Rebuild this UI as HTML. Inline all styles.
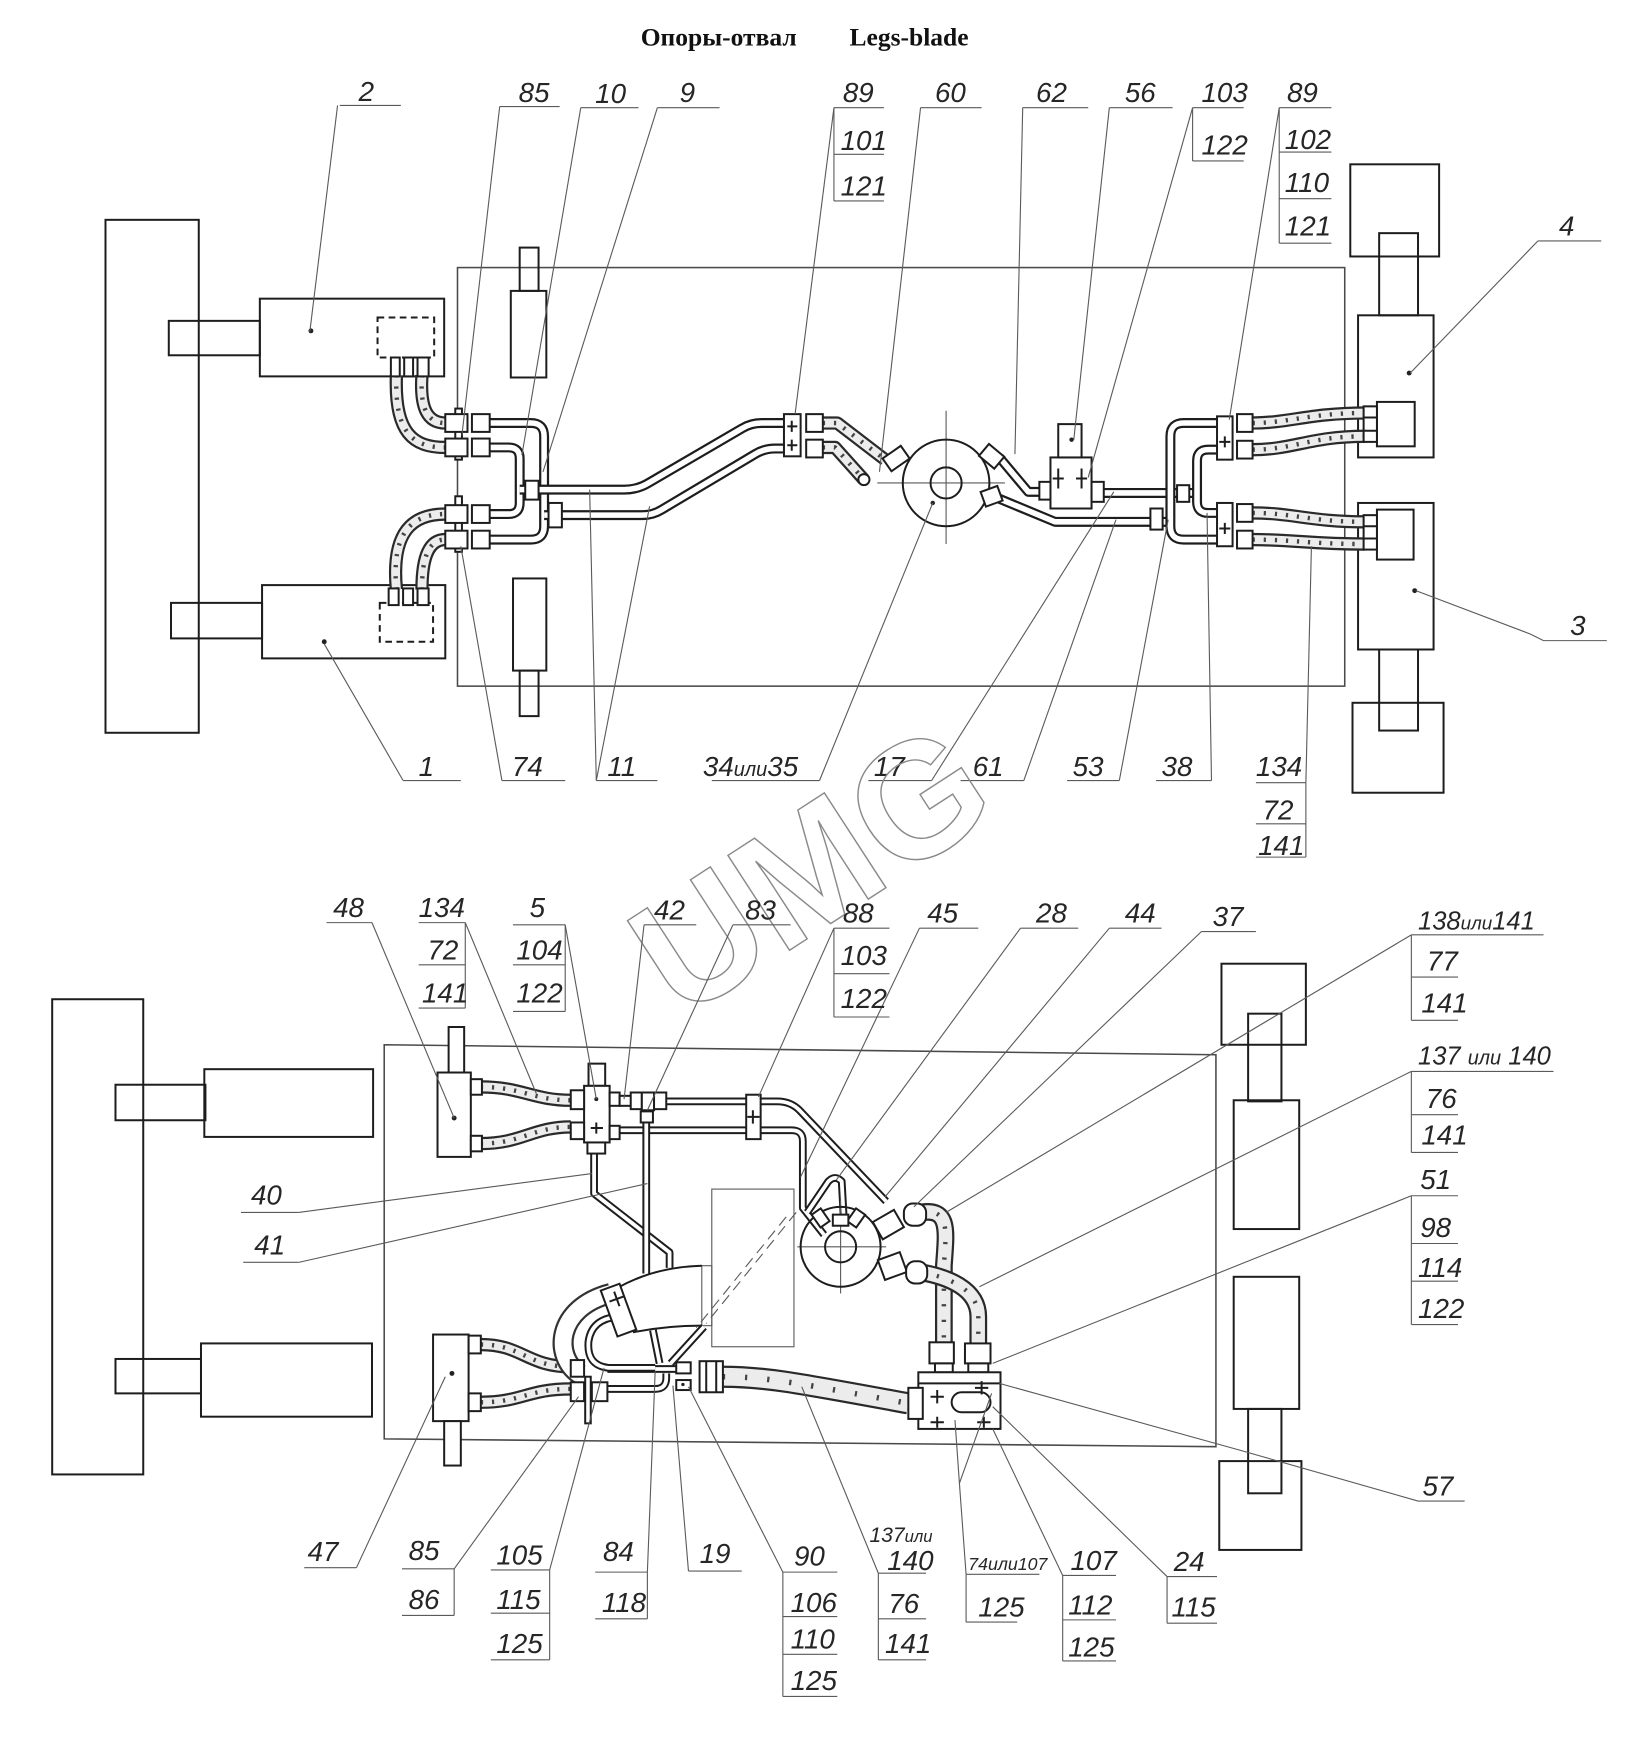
<!DOCTYPE html>
<html><head><meta charset="utf-8"><style>
html,body{margin:0;padding:0;background:#fff}
svg{display:block}
.k{fill:none;stroke:#1d1d1d;stroke-width:1.8}
.kw{fill:#fff;stroke:#1d1d1d;stroke-width:1.8}
.g{fill:none;stroke:#5a5a5a;stroke-width:1}
.fr{fill:none;stroke:#4a4a4a;stroke-width:1.4}
.po{fill:none;stroke:#1d1d1d;stroke-width:9;stroke-linejoin:round}
.pi{fill:none;stroke:#fff;stroke-width:5;stroke-linejoin:round}
.so{fill:none;stroke:#1d1d1d;stroke-width:7;stroke-linejoin:round}
.si{fill:none;stroke:#fff;stroke-width:3.4;stroke-linejoin:round}
.ho{fill:none;stroke:#2a2a2a;stroke-width:12;stroke-linejoin:round}
.hi{fill:none;stroke:#ececec;stroke-width:8;stroke-linejoin:round}
.hx{fill:none;stroke:#444;stroke-width:4;stroke-dasharray:2 8}
.l{font-family:"Liberation Sans","DejaVu Sans",sans-serif;font-style:italic;font-size:25px;fill:#262626}
.d{fill:#222}
</style></head><body>
<svg width="1639" height="1742" viewBox="0 0 1476 1569" preserveAspectRatio="none" xmlns="http://www.w3.org/2000/svg">

<!-- Title -->
<text x="577" y="41" font-family="Liberation Serif, serif" font-weight="bold" font-size="23" fill="#111">Опоры-отвал</text>
<text x="765" y="41" font-family="Liberation Serif, serif" font-weight="bold" font-size="23" fill="#111">Legs-blade</text>

<!-- ================= TOP DIAGRAM ================= -->
<rect class="k" x="95" y="198" width="84" height="462"/>
<rect class="k" x="152" y="289" width="82" height="31"/>
<rect class="k" x="234" y="269" width="166" height="70"/>
<rect class="k" x="340" y="286" width="51" height="36" stroke-dasharray="6 4"/>
<circle class="d" cx="280" cy="298" r="2.2"/>
<rect class="k" x="154" y="543" width="82" height="32"/>
<rect class="k" x="236" y="527" width="165" height="66"/>
<rect class="k" x="342" y="543" width="48" height="35" stroke-dasharray="6 4"/>
<circle class="d" cx="292" cy="578" r="2.2"/>
<rect class="fr" x="412" y="241" width="799" height="377"/>
<rect class="k" x="468" y="223" width="17" height="39"/>
<rect class="k" x="460" y="262" width="32" height="78"/>
<rect class="k" x="462" y="521" width="30" height="83"/>
<rect class="k" x="468" y="604" width="17" height="41"/>
<rect class="k" x="1216" y="148" width="80" height="83"/>
<rect class="k" x="1242" y="210" width="35" height="74"/>
<rect class="k" x="1223" y="284" width="68" height="128"/>
<rect class="k" x="1240" y="362" width="34" height="40"/>
<circle class="d" cx="1269" cy="336" r="2.2"/>
<rect class="k" x="1223" y="453" width="68" height="132"/>
<rect class="k" x="1240" y="459" width="33" height="45"/>
<circle class="d" cx="1274" cy="532" r="2.2"/>
<rect class="k" x="1242" y="585" width="35" height="73"/>
<rect class="k" x="1218" y="633" width="82" height="81"/>

<g>
<path class="ho" d="M357 338 C355 390,372 403,401 403"/><path class="hi" d="M357 338 C355 390,372 403,401 403"/><path class="hx" d="M357 338 C355 390,372 403,401 403"/>
<path class="ho" d="M380 338 C378 368,385 381,401 381"/><path class="hi" d="M380 338 C378 368,385 381,401 381"/><path class="hx" d="M380 338 C378 368,385 381,401 381"/>
<path class="ho" d="M357 531 C352 478,372 463,401 463"/><path class="hi" d="M357 531 C352 478,372 463,401 463"/><path class="hx" d="M357 531 C352 478,372 463,401 463"/>
<path class="ho" d="M380 531 C380 500,387 486,401 486"/><path class="hi" d="M380 531 C380 500,387 486,401 486"/><path class="hx" d="M380 531 C380 500,387 486,401 486"/>
</g>
<rect class="kw" x="352" y="322" width="8" height="17"/><rect class="kw" x="364" y="322" width="8" height="17"/><rect class="kw" x="376" y="322" width="10" height="17"/>
<rect class="kw" x="350" y="530" width="9" height="15"/><rect class="kw" x="363" y="530" width="9" height="15"/><rect class="kw" x="376" y="530" width="10" height="15"/>

<path class="po" d="M441 381 H478 Q490 381 490 393 V474 Q490 486 478 486 H441"/><path class="pi" d="M441 381 H478 Q490 381 490 393 V474 Q490 486 478 486 H441"/>
<path class="po" d="M441 403 H458 Q468 403 468 413 V453 Q468 463 458 463 H441"/><path class="pi" d="M441 403 H458 Q468 403 468 413 V453 Q468 463 458 463 H441"/>
<path class="po" d="M468 441 H562 Q574 441 584 435 L668 386 Q676 381 686 381 H706"/><path class="pi" d="M468 441 H562 Q574 441 584 435 L668 386 Q676 381 686 381 H706"/>
<path class="po" d="M490 464 H578 Q588 464 596 459 L680 409 Q688 404 698 404 H706"/><path class="pi" d="M490 464 H578 Q588 464 596 459 L680 409 Q688 404 698 404 H706"/>
<rect class="kw" x="473" y="433" width="12" height="17"/>
<rect class="kw" x="494" y="453" width="12" height="22"/>
<rect class="kw" x="410" y="368" width="6" height="46"/><rect class="kw" x="410" y="447" width="6" height="50"/>
<rect class="kw" x="401" y="373" width="20" height="16"/><rect class="kw" x="401" y="395" width="20" height="16"/>
<rect class="kw" x="401" y="455" width="20" height="16"/><rect class="kw" x="401" y="478" width="20" height="16"/>
<rect class="kw" x="425" y="373" width="16" height="16"/><rect class="kw" x="425" y="395" width="16" height="16"/>
<rect class="kw" x="425" y="455" width="16" height="16"/><rect class="kw" x="425" y="478" width="16" height="16"/>
<path class="ho" d="M741 381 H754 L797 414"/><path class="hi" d="M741 381 H754 L797 414"/><path class="hx" d="M741 381 H754 L797 414"/>
<path class="ho" d="M741 403 H752 L778 432"/><path class="hi" d="M741 403 H752 L778 432"/><path class="hx" d="M741 403 H752 L778 432"/>
<rect class="kw" x="706" y="373" width="15" height="38"/>
<path class="k" d="M709 384 H718 M713 379 V389 M709 401 H718 M713 396 V406"/>
<rect class="kw" x="726" y="373" width="15" height="16"/><rect class="kw" x="726" y="396" width="15" height="16"/>
<rect class="kw" x="797" y="406" width="20" height="14" transform="rotate(-35 807 413)"/>
<circle class="kw" cx="778" cy="432" r="5"/>
<line class="g" x1="852" y1="370" x2="852" y2="490"/>
<line class="g" x1="790" y1="435" x2="905" y2="435"/>
<circle class="k" cx="852" cy="435" r="39"/>
<circle class="k" cx="852" cy="435" r="14"/>
<circle class="d" cx="840" cy="453" r="2"/>
<path class="po" d="M900 412 L926 443 H937"/><path class="pi" d="M900 412 L926 443 H937"/>
<path class="po" d="M994 444 H1078"/><path class="pi" d="M994 444 H1078"/>
<path class="po" d="M897 448 L950 470 H1054"/><path class="pi" d="M897 448 L950 470 H1054"/>
<path class="po" d="M1096 405 H1088 Q1078 405 1078 415 V452 Q1078 462 1088 462 H1096"/><path class="pi" d="M1096 405 H1088 Q1078 405 1078 415 V452 Q1078 462 1088 462 H1096"/>
<path class="po" d="M1096 381 H1066 Q1054 381 1054 393 V474 Q1054 486 1066 486 H1096"/><path class="pi" d="M1096 381 H1066 Q1054 381 1054 393 V474 Q1054 486 1066 486 H1096"/>
<rect class="kw" x="884" y="404" width="18" height="14" transform="rotate(40 893 411)"/>
<rect class="kw" x="885" y="440" width="16" height="14" transform="rotate(-20 893 447)"/>
<rect class="kw" x="936" y="434" width="11" height="16"/>
<rect class="kw" x="946" y="412" width="37" height="46"/>
<rect class="kw" x="953" y="382" width="21" height="30"/>
<circle class="d" cx="965" cy="396" r="2"/>
<path class="k" d="M953 422 V440 M948 431 H958 M974 422 V440 M969 431 H979"/>
<rect class="kw" x="983" y="434" width="11" height="18"/>
<rect class="kw" x="1060" y="437" width="11" height="15"/>
<rect class="kw" x="1036" y="458" width="11" height="19"/>
<path class="ho" d="M1128 381 C1160 381,1180 372,1229 372"/><path class="hi" d="M1128 381 C1160 381,1180 372,1229 372"/><path class="hx" d="M1128 381 C1160 381,1180 372,1229 372"/>
<path class="ho" d="M1128 405 C1165 405,1180 393,1229 393"/><path class="hi" d="M1128 405 C1165 405,1180 393,1229 393"/><path class="hx" d="M1128 405 C1165 405,1180 393,1229 393"/>
<path class="ho" d="M1128 462 C1165 462,1180 470,1229 470"/><path class="hi" d="M1128 462 C1165 462,1180 470,1229 470"/><path class="hx" d="M1128 462 C1165 462,1180 470,1229 470"/>
<path class="ho" d="M1128 486 C1165 486,1180 490,1229 490"/><path class="hi" d="M1128 486 C1165 486,1180 490,1229 490"/><path class="hx" d="M1128 486 C1165 486,1180 490,1229 490"/>
<rect class="kw" x="1096" y="375" width="14" height="39"/><rect class="kw" x="1096" y="453" width="14" height="39"/>
<path class="k" d="M1098 398 H1108 M1103 393 V403 M1098 476 H1108 M1103 471 V481"/>
<rect class="kw" x="1114" y="373" width="14" height="16"/><rect class="kw" x="1114" y="397" width="14" height="16"/>
<rect class="kw" x="1114" y="454" width="14" height="16"/><rect class="kw" x="1114" y="478" width="14" height="16"/>
<rect class="kw" x="1228" y="366" width="12" height="32"/><rect class="kw" x="1228" y="464" width="12" height="31"/>
<path class="k" d="M1228 376 H1240 M1228 388 H1240 M1228 474 H1240 M1228 485 H1240"/>

<g class="g">
<path d="M304 95 L279 299"/><path d="M450 96 L416 392"/><path d="M523 97 L470 410"/><path d="M592 97 L489 425"/>
<path d="M751 97 L716 373"/><path d="M829 97 L792 425"/><path d="M921 97 L914 409"/><path d="M999 97 L967 396"/>
<path d="M1074 97 L980 430"/><path d="M1152 97 L1107 378"/>
<path d="M1385 217 L1270 336"/><path d="M1390 577 L1378 571 L1275 532"/>
<path d="M363 703 L292 580"/><path d="M452 703 L415 492"/>
<path d="M537 703 L531 441"/><path d="M537 703 L585 456"/>
<path d="M738 703 L840 453"/><path d="M839 703 L1003 443"/><path d="M922 703 L1005 468"/>
<path d="M1008 703 L1052 468"/><path d="M1091 703 L1087 462"/><path d="M1176 705 L1181 492"/>
</g>
<g class="g" stroke="#333" stroke-width="1.3">
<path d="M306 95 H361"/><path d="M450 96 H504"/><path d="M523 97 H575"/><path d="M592 97 H648"/>
<path d="M751 97 H796 M751 139 H796 M751 181 H796 M751 97 V181"/>
<path d="M829 97 H884"/><path d="M921 97 H980"/><path d="M999 97 H1056"/>
<path d="M1074 97 H1120 M1074 145 H1120 M1074 97 V145"/>
<path d="M1152 97 H1199 M1152 137 H1199 M1152 179 H1199 M1152 219 H1199 M1152 97 V219"/>
<path d="M1385 217 H1442"/><path d="M1390 577 H1447"/>
<path d="M363 703 H415"/><path d="M452 703 H509"/><path d="M537 703 H592"/><path d="M641 703 H738"/>
<path d="M782 703 H839"/><path d="M865 703 H922"/><path d="M961 703 H1008"/><path d="M1041 703 H1091"/>
<path d="M1131 705 H1176 M1131 742 H1176 M1131 772 H1176 M1176 705 V772"/>
</g>
<g class="l">
<text x="323" y="91">2</text><text x="467" y="92">85</text><text x="536" y="93">10</text><text x="612" y="92">9</text>
<text x="759" y="92">89</text><text x="757" y="135">101</text><text x="757" y="176">121</text>
<text x="842" y="92">60</text><text x="933" y="92">62</text><text x="1013" y="92">56</text>
<text x="1082" y="92">103</text><text x="1082" y="139">122</text>
<text x="1159" y="92">89</text><text x="1157" y="134">102</text><text x="1157" y="173">110</text><text x="1157" y="212">121</text>
<text x="1404" y="212">4</text><text x="1414" y="572">3</text>
<text x="377" y="699">1</text><text x="461" y="699">74</text><text x="547" y="699">11</text>
<text x="633" y="699">34<tspan font-size="18">или</tspan>35</text>
<text x="787" y="699">17</text><text x="876" y="699">61</text><text x="966" y="699">53</text><text x="1046" y="699">38</text>
<text x="1131" y="699">134</text><text x="1137" y="738">72</text><text x="1133" y="770">141</text>
</g>

<text transform="translate(729 781) rotate(-33)" x="0" y="53" text-anchor="middle" font-family="Liberation Sans, sans-serif" font-weight="bold" font-size="148" fill="none" stroke="#8a8a8a" stroke-width="1.3">UMG</text>

<!-- ================= BOTTOM DIAGRAM ================= -->
<rect class="k" x="47" y="900" width="82" height="428"/>
<rect class="k" x="104" y="977" width="81" height="32"/>
<rect class="k" x="184" y="963" width="152" height="61"/>
<rect class="k" x="104" y="1224" width="77" height="31"/>
<rect class="k" x="181" y="1210" width="154" height="66"/>
<path class="fr" d="M346 941 L1095 950 L1095 1303 L346 1296 Z"/>
<rect class="k" x="1100" y="868" width="76" height="73"/>
<rect class="k" x="1124" y="913" width="30" height="79"/>
<rect class="k" x="1111" y="991" width="59" height="116"/>
<rect class="k" x="1111" y="1150" width="59" height="119"/>
<rect class="k" x="1124" y="1269" width="30" height="76"/>
<rect class="k" x="1098" y="1316" width="74" height="80"/>
<rect class="g" x="641" y="1071" width="74" height="142" stroke="#444" stroke-width="1.3"/>
<rect class="g" x="632" y="1140" width="9" height="54" stroke="#444"/>
<path class="g" d="M717 1092 L636 1192 M708 1096 L627 1196" stroke="#333" stroke-width="1.3" stroke-dasharray="10 6"/>

<path class="ho" d="M433 979 C470 979,480 991,514 991"/><path class="hi" d="M433 979 C470 979,480 991,514 991"/><path class="hx" d="M433 979 C470 979,480 991,514 991"/>
<path class="ho" d="M433 1030 C470 1030,480 1015,514 1015"/><path class="hi" d="M433 1030 C470 1030,480 1015,514 1015"/><path class="hx" d="M433 1030 C470 1030,480 1015,514 1015"/>
<path class="ho" d="M433 1211 C470 1211,475 1231,514 1231"/><path class="hi" d="M433 1211 C470 1211,475 1231,514 1231"/><path class="hx" d="M433 1211 C470 1211,475 1231,514 1231"/>
<path class="ho" d="M433 1263 C470 1263,475 1251,514 1251"/><path class="hi" d="M433 1263 C470 1263,475 1251,514 1251"/><path class="hx" d="M433 1263 C470 1263,475 1251,514 1251"/>
<path fill="none" stroke="#2a2a2a" stroke-width="20" d="M651 1240 C690 1240,720 1246,818 1264"/>
<path fill="none" stroke="#ececec" stroke-width="16" d="M651 1240 C690 1240,720 1246,818 1264"/>
<path fill="none" stroke="#444" stroke-width="5" stroke-dasharray="2 18" d="M651 1240 C690 1240,720 1246,818 1264"/>
<path fill="none" stroke="#2a2a2a" stroke-width="16" d="M830 1092 C856 1088,852 1110,850 1140 V1209"/>
<path fill="none" stroke="#ececec" stroke-width="12" d="M830 1092 C856 1088,852 1110,850 1140 V1209"/>
<path fill="none" stroke="#444" stroke-width="4" stroke-dasharray="2 12" d="M830 1092 C856 1088,852 1110,850 1140 V1209"/>
<path fill="none" stroke="#2a2a2a" stroke-width="16" d="M830 1146 C852 1150,881 1160,881 1186 V1210"/>
<path fill="none" stroke="#ececec" stroke-width="12" d="M830 1146 C852 1150,881 1160,881 1186 V1210"/>
<path fill="none" stroke="#444" stroke-width="4" stroke-dasharray="2 12" d="M830 1146 C852 1150,881 1160,881 1186 V1210"/>

<path class="so" d="M600 992 H700 Q712 992 720 1000 L798 1082"/><path class="si" d="M600 992 H700 Q712 992 720 1000 L798 1082"/>
<path class="so" d="M558 1018 H713 Q723 1018 723 1028 V1088 L742 1112"/><path class="si" d="M558 1018 H713 Q723 1018 723 1028 V1088 L742 1112"/>
<path class="so" d="M727 1092 L746 1064 Q752 1058 758 1064 L760 1100"/><path class="si" d="M727 1092 L746 1064 Q752 1058 758 1064 L760 1100"/>
<path class="so" d="M535 1038 V1075 L603 1128 V1142"/><path class="si" d="M535 1038 V1075 L603 1128 V1142"/>
<path class="so" d="M582 1005 V1147"/><path class="si" d="M582 1005 V1147"/>
<path class="so" d="M547 1233 H609"/><path class="si" d="M547 1233 H609"/>
<path class="so" d="M547 1251 H590 Q600 1251 600 1241 V1237"/><path class="si" d="M547 1251 H590 Q600 1251 600 1241 V1237"/>
<path class="so" d="M604 1228 L634 1195"/><path class="si" d="M604 1228 L634 1195"/>
<path class="so" d="M594 1228 L588 1198"/><path class="si" d="M594 1228 L588 1198"/>
<path fill="none" stroke="#333" stroke-width="19" d="M522 1238 C498 1222,500 1178,550 1165"/>
<path fill="none" stroke="#fff" stroke-width="15" d="M522 1238 C498 1222,500 1178,550 1165"/>
<path class="so" d="M590 1232 H548 Q528 1230 530 1208 Q533 1188 556 1186"/><path class="si" d="M590 1232 H548 Q528 1230 530 1208 Q533 1188 556 1186"/>
<path class="k" d="M556 1160 Q590 1141 632 1140 M570 1200 Q600 1194 632 1194" stroke="#444" stroke-width="1.3"/>
<rect class="kw" x="548" y="1158" width="18" height="44" transform="rotate(-20 557 1180)"/>
<path class="k" d="M552 1170 H566 M559 1163 V1177" transform="rotate(-20 557 1180)"/>

<rect class="kw" x="394" y="966" width="30" height="76"/>
<rect class="kw" x="404" y="925" width="14" height="41"/>
<rect class="kw" x="424" y="972" width="10" height="14"/><rect class="kw" x="424" y="1023" width="10" height="14"/>
<circle class="d" cx="409" cy="1007" r="2.2"/>
<rect class="kw" x="390" y="1202" width="32" height="78"/>
<rect class="kw" x="400" y="1280" width="15" height="40"/>
<rect class="kw" x="422" y="1203" width="11" height="16"/><rect class="kw" x="422" y="1255" width="11" height="16"/>
<circle class="d" cx="407" cy="1237" r="2.2"/>
<rect class="kw" x="530" y="958" width="15" height="20"/>
<rect class="kw" x="526" y="978" width="23" height="51"/>
<rect class="kw" x="529" y="1029" width="16" height="10"/>
<rect class="kw" x="514" y="982" width="12" height="17"/><rect class="kw" x="514" y="1011" width="12" height="15"/>
<rect class="kw" x="549" y="984" width="9" height="12"/><rect class="kw" x="549" y="1014" width="9" height="12"/>
<path class="k" d="M532 1016 H543 M537 1011 V1021" stroke-width="1.3"/>
<circle class="d" cx="537" cy="990" r="1.8"/>
<rect class="kw" x="558" y="987" width="11" height="9"/>
<rect class="kw" x="568" y="984" width="10" height="15"/>
<rect class="kw" x="578" y="984" width="11" height="16"/>
<rect class="kw" x="589" y="984" width="11" height="15"/>
<rect class="kw" x="577" y="1001" width="11" height="10"/>
<rect class="kw" x="672" y="986" width="13" height="40"/>
<path class="k" d="M673 1006 H684 M678 1000 V1012" stroke-width="1.3"/>
<rect class="kw" x="514" y="1225" width="12" height="15"/>
<rect class="kw" x="514" y="1245" width="12" height="17"/>
<rect class="kw" x="533" y="1245" width="14" height="17"/>
<rect class="kw" x="527" y="1240" width="5" height="42"/>
<rect class="kw" x="609" y="1227" width="13" height="10"/>
<rect class="kw" x="609" y="1243" width="13" height="9"/>
<circle class="d" cx="615" cy="1247" r="1.5"/>
<rect class="kw" x="630" y="1226" width="21" height="28"/>
<path class="k" d="M636 1226 V1254 M645 1226 V1254" stroke-width="1.2"/>
<line class="g" x1="757" y1="1080" x2="757" y2="1165"/>
<line class="g" x1="718" y1="1123" x2="798" y2="1123"/>
<circle class="k" cx="757" cy="1123" r="36"/>
<circle class="k" cx="757" cy="1123" r="14"/>
<rect class="kw" x="734" y="1090" width="10" height="14" transform="rotate(-35 739 1097)"/>
<rect class="kw" x="766" y="1090" width="10" height="14" transform="rotate(35 771 1097)"/>
<rect class="kw" x="750" y="1094" width="14" height="10"/>
<rect class="kw" x="789" y="1094" width="22" height="18" transform="rotate(-30 800 1103)"/>
<rect class="kw" x="814" y="1084" width="20" height="20" rx="8"/>
<rect class="kw" x="793" y="1131" width="21" height="19" transform="rotate(-20 803 1140)"/>
<rect class="kw" x="816" y="1136" width="19" height="20" rx="8"/>
<rect class="kw" x="837" y="1209" width="22" height="19"/>
<rect class="kw" x="869" y="1210" width="23" height="18"/>
<rect class="kw" x="842" y="1228" width="16" height="8"/>
<rect class="kw" x="872" y="1228" width="18" height="8"/>
<rect class="kw" x="827" y="1236" width="74" height="51"/>
<line class="k" x1="827" y1="1246" x2="901" y2="1246" stroke-width="1.2"/>
<rect class="kw" x="857" y="1254" width="35" height="18" rx="9"/>
<rect class="kw" x="818" y="1250" width="13" height="28"/>
<path class="k" d="M838 1258 H850 M844 1252 V1264 M878 1250 H890 M884 1244 V1256 M838 1281 H850 M844 1276 V1286 M880 1281 H892 M886 1276 V1286" stroke-width="1.2"/>

<g class="g">
<path d="M335 831 L409 1007"/><path d="M419 831 L483 985"/><path d="M509 833 L537 990"/>
<path d="M580 833 L562 990"/><path d="M660 833 L583 1000"/><path d="M751 836 L683 988"/>
<path d="M828 836 L721 1060"/><path d="M919 836 L753 1063"/><path d="M999 836 L797 1078"/><path d="M1082 839 L823 1087"/>
<path d="M1271 842 L852 1092"/><path d="M1271 965 L882 1159"/><path d="M1271 1077 L894 1228"/>
<path d="M1277 1352 L1116 1306 L900 1246"/>
<path d="M269 1092 L533 1057"/><path d="M269 1137 L583 1066"/>
<path d="M321 1412 L401 1240"/><path d="M409 1413 L521 1258"/><path d="M495 1414 L544 1232"/>
<path d="M583 1416 L590 1235"/><path d="M620 1415 L606 1248"/><path d="M705 1416 L620 1249"/>
<path d="M791 1417 L722 1249"/><path d="M870 1418 L864 1336 L860 1279 M864 1336 L893 1255"/>
<path d="M957 1419 L894 1287"/><path d="M1051 1420 L894 1267"/>
</g>
<g class="g" stroke="#333" stroke-width="1.3">
<path d="M294 831 H335"/>
<path d="M377 831 H419 M377 869 H419 M377 908 H419 M419 831 V908"/>
<path d="M462 833 H509 M462 869 H509 M462 911 H509 M509 833 V911"/>
<path d="M580 833 H627"/><path d="M660 833 H712"/>
<path d="M751 836 H801 M751 877 H801 M751 916 H801 M751 836 V916"/>
<path d="M828 836 H881"/><path d="M919 836 H971"/><path d="M999 836 H1046"/><path d="M1082 839 H1131"/>
<path d="M1271 842 H1390 M1271 880 H1313 M1271 919 H1313 M1271 842 V919"/>
<path d="M1271 965 H1399 M1271 1004 H1313 M1271 1038 H1313 M1271 965 V1038"/>
<path d="M1271 1077 H1313 M1271 1120 H1313 M1271 1154 H1313 M1271 1193 H1313 M1271 1077 V1193"/>
<path d="M1277 1352 H1319"/>
<path d="M217 1092 H269"/><path d="M219 1137 H269"/>
<path d="M274 1412 H321"/>
<path d="M362 1413 H409 M362 1455 H409 M409 1413 V1455"/>
<path d="M442 1414 H495 M442 1453 H495 M442 1495 H495 M495 1414 V1495"/>
<path d="M536 1416 H583 M536 1458 H583 M583 1416 V1458"/>
<path d="M620 1415 H668"/>
<path d="M705 1416 H754 M705 1456 H754 M705 1490 H754 M705 1528 H754 M705 1416 V1528"/>
<path d="M791 1417 H834 M791 1458 H834 M791 1495 H834 M791 1417 V1495"/>
<path d="M870 1418 H936 M870 1461 H916 M870 1418 V1461"/>
<path d="M957 1419 H1005 M957 1459 H1005 M957 1496 H1005 M957 1419 V1496"/>
<path d="M1051 1420 H1096 M1051 1462 H1096 M1051 1420 V1462"/>
</g>
<g class="l">
<text x="300" y="826">48</text>
<text x="377" y="826">134</text><text x="385" y="864">72</text><text x="380" y="903">141</text>
<text x="477" y="826">5</text><text x="465" y="864">104</text><text x="465" y="903">122</text>
<text x="589" y="828">42</text><text x="671" y="828">83</text>
<text x="759" y="831">88</text><text x="757" y="869">103</text><text x="757" y="908">122</text>
<text x="835" y="831">45</text><text x="933" y="831">28</text><text x="1013" y="831">44</text><text x="1092" y="834">37</text>
<text x="1277" y="837" font-size="23">138<tspan font-size="17">или</tspan>141</text>
<text x="1285" y="874">77</text><text x="1280" y="912">141</text>
<text x="1277" y="959" font-size="23">137 <tspan font-size="18">или</tspan> 140</text>
<text x="1284" y="998">76</text><text x="1280" y="1031">141</text>
<text x="1279" y="1071">51</text><text x="1279" y="1114">98</text><text x="1277" y="1150">114</text><text x="1277" y="1187">122</text>
<text x="1281" y="1347">57</text>
<text x="226" y="1085">40</text><text x="229" y="1130">41</text>
<text x="277" y="1406">47</text>
<text x="368" y="1405">85</text><text x="368" y="1449">86</text>
<text x="447" y="1409">105</text><text x="447" y="1449">115</text><text x="447" y="1489">125</text>
<text x="543" y="1406">84</text><text x="542" y="1452">118</text>
<text x="630" y="1408">19</text>
<text x="715" y="1410">90</text><text x="712" y="1452">106</text><text x="712" y="1485">110</text><text x="712" y="1522">125</text>
<text x="783" y="1389" font-size="19">137<tspan font-size="15">или</tspan></text>
<text x="799" y="1414">140</text><text x="800" y="1453">76</text><text x="797" y="1489">141</text>
<text x="872" y="1414" font-size="16">74или107</text><text x="881" y="1456">125</text>
<text x="964" y="1414">107</text><text x="962" y="1454">112</text><text x="962" y="1492">125</text>
<text x="1057" y="1415">24</text><text x="1055" y="1456">115</text>
</g>
</svg>
</body></html>
